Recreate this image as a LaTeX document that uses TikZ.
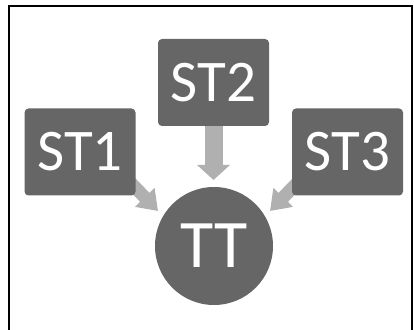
\documentclass[tikz,border=0pt]{standalone}
\usepackage{fontspec}
\setmainfont{Carlito}
\usetikzlibrary{arrows.meta}
\pgfdeclarelayer{bg}
\pgfsetlayers{bg,main}
\definecolor{boxgray}{RGB}{102,102,102}
\definecolor{arrowgray}{RGB}{176,176,176}
\tikzset{
  stbox/.style={fill=boxgray, rounded corners=4pt, minimum width=111pt, minimum height=87pt, inner sep=0pt, text=white, font=\fontsize{59}{59}\selectfont},
  ttcircle/.style={circle, fill=boxgray, minimum size=118pt, inner sep=0pt, text=white, font=\fontsize{68}{68}\selectfont},
  fatarrow/.style={draw=arrowgray, line width=18pt, -{Triangle[width=32pt,length=15pt,fill=arrowgray]}},
  slantarrow/.style={draw=arrowgray, line width=13pt, -{Triangle[width=26pt,length=19pt,fill=arrowgray]}},
  frameline/.style={line width=2pt, black}
}
\begin{document}
\begin{tikzpicture}[x=1pt,y=1pt]
\useasboundingbox (0,0) rectangle (414,329);
\draw[frameline] (9,-2) -- (9,323) -- (412,323) -- (412,-2);
\node[stbox] (st1) at (80,177) {ST1};
\node[stbox] (st2) at (213.5,246.5) {ST2};
\node[stbox] (st3) at (347.5,177) {ST3};
\node[ttcircle] (tt) at (214,83) {TT};
\coordinate (s1) at (126,151);
\coordinate (t1) at (158,118);
\coordinate (t2) at (213.5,149);
\coordinate (s3) at (302,151);
\coordinate (t3) at (270,118);
\begin{pgfonlayer}{bg}
\draw[fatarrow] (st2.south) -- (t2);
\draw[slantarrow] (s1) -- (t1);
\draw[slantarrow] (s3) -- (t3);
\end{pgfonlayer}
\end{tikzpicture}
\end{document}
